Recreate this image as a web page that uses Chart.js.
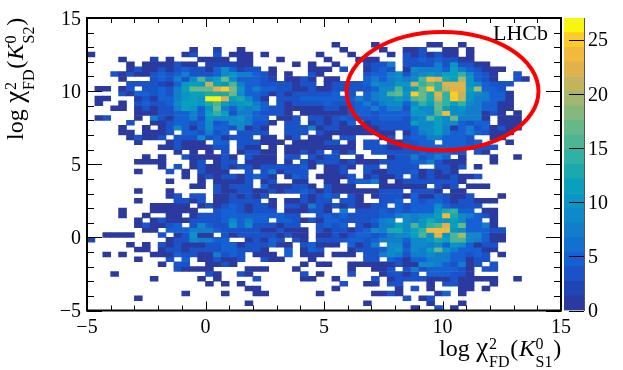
<!DOCTYPE html>
<html>
<head>
<meta charset="utf-8">
<style>
  body { margin: 0; background: #fff; }
  canvas { position: absolute; top: 0; }
</style>
<script src="https://cdn.jsdelivr.net/npm/chart.js@4"></script>
</head>
<body>
<canvas id="histChart" width="623" height="370" style="left:0"></canvas>
<canvas id="barChart" width="59" height="370" style="left:564px"></canvas>
<script>
// bin counts, one char per bin in base 36, '.' = empty
// top row first, split in three blocks of 20 columns
const countsLeft = [
  "", "", "", "", "", "",
  ".............1..2..1",
  "1...........13..3.11",
  "....1...2.1...1111.1",
  ".....1.1111311.22221",
  ".....131131353315952",
  "...313113535733359a7",
  "....1...353739g9bh95",
  ".....3333215abalbaf7",
  ".11.13.33537bhhhmpia",
  "....31553537acbdddh9",
  ".11...131557abarrmcd",
  ".1..1.353359cbadfc9a",
  "...11.131337ca5ah859",
  "......111335575cec37",
  ".13...1.7315573a999a",
  ".....3..113553593599",
  "....1..1.13951595539",
  "....11.1113.553735.3",
  ".....13113.333935133",
  "......1...13111.55.3",
  ".........113111133.3",
  "...........1.1.1.3.1",
  ".......1.1..3111131.",
  "......1111...13.133.",
  ".........1.3.1311313",
  "......1...3.1.3111..",
  "............1.131331",
  "..........1...1.1111",
  ".............11.3133",
  "......1...1.....3113",
  "..........13.33.1131",
  "......1....3313.1133",
  "........11111.131353",
  "....1...111111..3553",
  "....1..1..11.1333555",
  "......1.131113333595",
  "......131135.39533a5",
  ".......11.5557775333",
  "..1111...3.13a11.313",
  "2.........13397755..",
  ".....1.1.31311133551",
  "......11.13313333553",
  "..1.1...111533117353",
  "......1...3.5.113113",
  ".........1.33..1131.",
  "...........31111",
  "...1...........31..3",
  "........1.....1.1",
  "...............1.1.1",
  "",
  "............1....1",
  "......1",
  "", ""
];
const countsMid = [
  "", "", "", "", "",
  "...........1....1",
  "............1....1",
  "1.1......1...1....1",
  "1...1.....1...111",
  "1.....1.1..1...2337",
  "33.1....111.3..1353",
  "7531.1..31.....35579",
  "5532.1131.11...57579",
  "553333133.133335977a",
  "5755331131133333599f",
  "553131333335.3.579fh",
  "951.333555555575799b",
  "c75.3133335333575799",
  "79533111113313557577",
  "753331.1111113553555",
  "755.113.331353333555",
  "7331.33.131315.13333",
  "131..333713311111333",
  "333..333.3111111211.",
  "3.11.13.111.33...13.",
  "33111.111133.1.33.31",
  "11.1.111111111.33311",
  "3311.11313.313..3333",
  "3111.33.3133..1...13",
  "1111.1.3133313111333",
  "313333351.1131.33.33",
  "3.371333..113..31133",
  "3531.153.11113.13113",
  "3.13..11..11.35571.1",
  "3.5111331.3111...111",
  "31131335313111111333",
  "313....31353.31.1333",
  "33.1.113133.331..335",
  "1331.3317313131133.5",
  "1333.111331.7.333535",
  "5555533..35353333557",
  "755.553131553333579",
  "9333133..3535.31377b",
  "33113111.313313597dd",
  "33331311.11313553579",
  "13153.31.33335535777",
  "333511.35111.5137.99",
  "331..5.153...133359a",
  ".111.5.111.111.33797",
  "..311...1......33.53",
  ".......1.11..1111113",
  "111...1......1..113.",
  "1......3.1...3...133",
  ".3.....11..1....3.13",
  "............3..11.33",
  "11.........1.......1",
  ".11......1......1131",
  "",
  "1..............1",
  ""
];
const countsRight = [
  "", "", "", "", "",
  "...11..1",
  "113..11.1",
  "3131311.1",
  "335353311",
  "333373a3311",
  "197775b753111",
  "379a9bce9531..3",
  "79fomdbja531..31",
  "alehemmma95333",
  "9chpelmmck553",
  "aphdmepla97551",
  "9fhdlepla77551",
  "59ebhece975511",
  "3b99hb9a775511",
  "5aa9fo9977131.1",
  "379fc9h7771.111",
  "3c99b995355.111",
  "3599b7157351311",
  "1579c755753111",
  "355775553..11",
  "3355.55535...1",
  "335555555333",
  "33535533.31",
  "373575.1...1..1",
  "35573111...1",
  "33..3313.1",
  "3513131",
  ".313113113",
  "33333331",
  "111.313.111",
  ".3331.11",
  "151153113...1",
  ".53553133111",
  "3555953333",
  "3555ade55.11",
  "9799bod97531",
  "97adaab955.1",
  "9faefmbh5571",
  "9cennna955533",
  "9cgamafj99511",
  "599adbgg97511",
  "399795a95133",
  "597bha755511",
  "37797755353.1",
  "15577755133",
  "1199753713.3",
  "373555531.33",
  "13.555331",
  "333111311111..1",
  "...1.3311..1",
  ".3.1...11.1",
  "....15.1",
  "3.13",
  "...1...1",
  ".1..3.1"
];

const axisTicks = [-5, 0, 5, 10, 15];
const minorTicks = [-5, -4, -3, -2, -1, 0, 1, 2, 3, 4, 5, 6, 7, 8, 9, 10, 11, 12, 13, 14, 15];
const barTicks = [0, 5, 10, 15, 20, 25];
const palette = ['#2b3a9f', '#1f45b5', '#1a52c8', '#1560d2', '#1270d0', '#117dcb', '#0e8ac8', '#0a96c5', '#09a0bd', '#1ba9ae',
                 '#2fb2a3', '#4bb594', '#66b888', '#85b87c', '#a5b76e', '#c4b35e', '#dfb24c', '#f3b93a', '#fdcb27', '#f8f50f'];
const maxCount = 27;
const binWidth = 1 / 3;
const circle = { x: 10, y: 10, r: 4.05 };

const serif = '"Liberation Serif", "Times New Roman", serif';

function bandColor(count) {
    const band = Math.floor(count / maxCount * palette.length);
    return palette[Math.min(band, palette.length - 1)];
}

// one bar dataset per histogram row
const rowDatasets = [];
countsLeft.forEach((left, row) => {
    const text = left.padEnd(20, '.') + countsMid[row].padEnd(20, '.') + countsRight[row].padEnd(20, '.');
    const top = 15 - row * binWidth;
    const points = [];
    for (let col = 0; col < text.length; col++) {
        if (text[col] === '.') continue;
        points.push({
            x: -5 + (col + 0.5) * binWidth,
            y: [top - binWidth, top],
            count: parseInt(text[col], 36)
        });
    }
    rowDatasets.push({
        data: points,
        backgroundColor: points.map(p => bandColor(p.count)),
        borderWidth: 0,
        grouped: false,
        barPercentage: 1,
        categoryPercentage: 1
    });
});

// draws text pieces one after the other, with stacked sup/sub pairs
function drawTitle(ctx, x, y, angle, gap, parts) {
    ctx.save();
    ctx.translate(x, y);
    ctx.rotate(angle);
    ctx.fillStyle = '#000';
    ctx.textBaseline = 'alphabetic';
    ctx.textAlign = 'left';
    let pos = 0;
    parts.forEach(part => {
        if (part.sup !== undefined) {
            ctx.font = `16px ${serif}`;
            ctx.fillText(part.sup, pos, -7);
            ctx.fillText(part.sub, pos, 11);
            pos += Math.max(ctx.measureText(part.sup).width, ctx.measureText(part.sub).width);
        } else {
            ctx.font = `${part.italic ? 'italic ' : ''}${part.size || 24}px ${serif}`;
            ctx.fillText(part.text, pos, 0);
            pos += ctx.measureText(part.text).width;
        }
        pos += gap;
    });
    ctx.restore();
}

function titleParts(fdSub, kSub) {
    return [
        { text: 'log ' },
        { text: 'χ', size: 27 },
        { sup: '2', sub: fdSub },
        { text: '(' },
        { text: 'K', italic: true },
        { sup: '0', sub: kSub },
        { text: ')' }
    ];
}

const framePlugin = {
    id: 'frame',
    afterDatasetsDraw(chart) {
        const { ctx, chartArea: a, scales: { x, y } } = chart;
        ctx.save();

        // red circle around the signal peak
        ctx.strokeStyle = '#ff0000';
        ctx.lineWidth = 4;
        ctx.beginPath();
        ctx.ellipse(x.getPixelForValue(circle.x), y.getPixelForValue(circle.y),
            x.getPixelForValue(circle.x + circle.r) - x.getPixelForValue(circle.x),
            y.getPixelForValue(circle.y) - y.getPixelForValue(circle.y + circle.r),
            0, 0, Math.PI * 2);
        ctx.stroke();

        // ticks point inwards on all four sides
        ctx.strokeStyle = '#000';
        ctx.lineWidth = 1;
        ctx.beginPath();
        minorTicks.forEach(v => {
            const big = axisTicks.includes(v);
            const px = Math.round(x.getPixelForValue(v)) + 0.5;
            const py = Math.round(y.getPixelForValue(v)) + 0.5;
            const lenX = big ? 9 : 5;
            const lenY = big ? 15 : 7;
            ctx.moveTo(px, a.bottom); ctx.lineTo(px, a.bottom - lenX);
            ctx.moveTo(px, a.top); ctx.lineTo(px, a.top + lenX);
            ctx.moveTo(a.left, py); ctx.lineTo(a.left + lenY, py);
            ctx.moveTo(a.right, py); ctx.lineTo(a.right - lenY, py);
        });
        ctx.stroke();

        ctx.lineWidth = 2;
        ctx.strokeRect(a.left, a.top, a.right - a.left, a.bottom - a.top);

        ctx.fillStyle = '#000';
        ctx.font = `22px ${serif}`;
        ctx.textAlign = 'left';
        ctx.textBaseline = 'alphabetic';
        ctx.fillText('LHCb', 493, 40);
        ctx.restore();

        drawTitle(ctx, 439, 356, 0, 0.7, titleParts('FD', 'S1'));
        drawTitle(ctx, 23, 140, -Math.PI / 2, 0.7, titleParts('FD', 'S2'));
    }
};

const minusLabel = v => String(v).replace('-', '−');

new Chart(document.getElementById('histChart'), {
    type: 'bar',
    data: { datasets: rowDatasets },
    plugins: [framePlugin],
    options: {
        responsive: false,
        animation: false,
        layout: { padding: { top: 18, right: 62, left: 0, bottom: 0 } },
        plugins: { legend: { display: false }, tooltip: { enabled: false } },
        scales: {
            x: {
                type: 'linear',
                min: -5,
                max: 15,
                offset: false,
                grid: { display: false, drawTicks: false },
                border: { display: false },
                afterFit: s => { s.height = 59.5; },
                ticks: {
                    stepSize: 5,
                    padding: 5,
                    maxRotation: 0,
                    color: '#000',
                    font: { family: serif, size: 20 },
                    callback: minusLabel
                }
            },
            y: {
                type: 'linear',
                min: -5,
                max: 15,
                grid: { display: false, drawTicks: false },
                border: { display: false },
                afterFit: s => { s.width = 87; },
                ticks: {
                    stepSize: 5,
                    padding: 6,
                    labelOffset: 1.5,
                    color: '#000',
                    font: { family: serif, size: 20 },
                    callback: minusLabel
                }
            }
        }
    }
});

// colour bar next to the plot
const barDatasets = palette.map((color, i) => ({
    data: [[i * maxCount / palette.length, (i + 1) * maxCount / palette.length]],
    backgroundColor: color,
    borderWidth: 0,
    grouped: false,
    barPercentage: 1,
    categoryPercentage: 1
}));

const barTickPlugin = {
    id: 'barTicks',
    afterDatasetsDraw(chart) {
        const { ctx, chartArea: a, scales: { y } } = chart;
        ctx.save();
        ctx.strokeStyle = '#000';
        ctx.lineWidth = 1;
        ctx.beginPath();
        barTicks.forEach(v => {
            const py = Math.round(y.getPixelForValue(v)) + 0.5;
            ctx.moveTo(a.right, py);
            ctx.lineTo(a.right - 15, py);
        });
        ctx.stroke();
        ctx.restore();
    }
};

new Chart(document.getElementById('barChart'), {
    type: 'bar',
    data: { labels: ['entries'], datasets: barDatasets },
    plugins: [barTickPlugin],
    options: {
        responsive: false,
        animation: false,
        layout: { padding: { top: 18, bottom: 59.5, left: 0, right: 0 } },
        plugins: { legend: { display: false }, tooltip: { enabled: false } },
        scales: {
            x: { display: false },
            y: {
                position: 'right',
                min: 0,
                max: maxCount,
                grid: { display: false, drawTicks: false },
                border: { color: '#555', width: 1 },
                afterFit: s => { s.width = 39; },
                afterBuildTicks: s => { s.ticks = barTicks.map(value => ({ value })); },
                ticks: {
                    padding: 4,
                    labelOffset: 1.5,
                    color: '#000',
                    font: { family: serif, size: 20 }
                }
            }
        }
    }
});
</script>
</body>
</html>
